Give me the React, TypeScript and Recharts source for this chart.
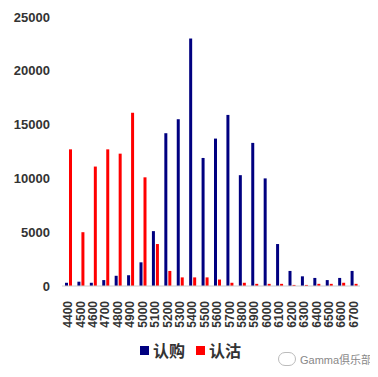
import { BarChart, Bar, XAxis, YAxis } from 'recharts';

const strikes = [
  '4400', '4500', '4600', '4700', '4800', '4900', '5000', '5100', '5200', '5300', '5400', '5500',
  '5600', '5700', '5800', '5900', '6000', '6100', '6200', '6300', '6400', '6500', '6600', '6700'
];
const calls = [
  300, 400, 300, 550, 950, 1000, 2200, 5100, 14200, 15500, 23000, 11900,
  13700, 15900, 10300, 13300, 10000, 3900, 1400, 900, 750, 550, 750, 1400
];
const puts = [
  12700, 5000, 11100, 12700, 12300, 16100, 10100, 3900, 1400, 800, 800, 800,
  600, 300, 300, 200, 200, 200, 100, 100, 200, 200, 300, 200
];
const yTicks = [0, 5000, 10000, 15000, 20000, 25000];

const BLUE = '#000080';
const RED = '#FF0000';

const data = strikes.map((s, i) => ({ strike: s, call: calls[i], put: puts[i] }));

const tickFont = { fontFamily: '"Liberation Sans", Arial, sans-serif', fontSize: 13, fontWeight: 700, fill: '#333' };

function XTick({ x, y, payload }: any) {
  return (
    <text
      x={x}
      y={y}
      transform={`rotate(-90, ${x}, ${y})`}
      textAnchor="end"
      dominantBaseline="central"
      style={{ ...tickFont, fontSize: 12 }}
      dx={-7}
    >
      {payload.value}
    </text>
  );
}

export default function App() {
  return (
    <div style={{ position: 'relative', width: 370, height: 369 }}>
      <BarChart
        width={370}
        height={369}
        data={data}
        margin={{ top: 9, right: 18, left: 0, bottom: 43 }}
        barSize={3}
        barGap={1}
      >
        <YAxis
          domain={[0, 25000]}
          ticks={yTicks}
          axisLine={false}
          tickLine={false}
          width={54}
          tick={tickFont}
          tickMargin={6}
        />
        <XAxis
          dataKey="strike"
          interval={0}
          axisLine={{ stroke: '#ccc' }}
          tickLine={false}
          height={48}
          tick={<XTick />}
        />
        <Bar dataKey="call" name="认购" fill={BLUE} isAnimationActive={false} />
        <Bar dataKey="put" name="认沽" fill={RED} isAnimationActive={false} />
      </BarChart>
      <div style={{ position: 'absolute', left: 132, top: 331, display: 'flex', alignItems: 'center', gap: 11 }}>
        {[
          { name: '认购', color: BLUE },
          { name: '认沽', color: RED }
        ].map((it) => (
          <div key={it.name} style={{ display: 'flex', alignItems: 'center' }}>
            <span style={{ width: 9, height: 9, background: it.color, display: 'inline-block', marginRight: 4 }} />
            <span style={{ fontFamily: '"Noto Sans CJK SC", sans-serif', fontSize: 16, fontWeight: 700, color: '#333', lineHeight: '22px' }}>
              {it.name}
            </span>
          </div>
        ))}
      </div>
      <div
        style={{
          position: 'absolute',
          left: 270,
          top: 344,
          width: 16,
          height: 12,
          border: '1px solid #bbb',
          borderRadius: 8
        }}
      />
      <div
        style={{
          position: 'absolute',
          left: 292,
          top: 343,
          fontFamily: '"Liberation Sans", "Noto Sans CJK SC", sans-serif',
          fontSize: 11,
          color: '#888',
          whiteSpace: 'nowrap'
        }}
      >
        Gamma俱乐部
      </div>
    </div>
  );
}
